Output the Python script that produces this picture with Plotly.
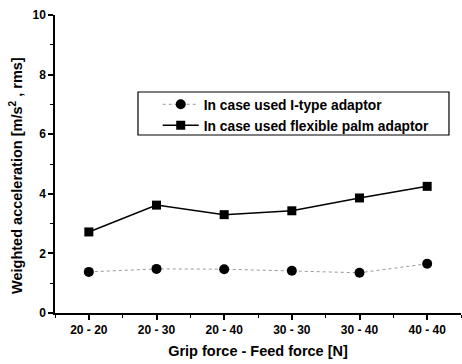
import plotly.graph_objects as go

categories = ["20 - 20", "20 - 30", "20 - 40", "30 - 30", "30 - 40", "40 - 40"]
itype = [1.38, 1.48, 1.47, 1.42, 1.35, 1.65]
flexible = [2.72, 3.62, 3.30, 3.43, 3.86, 4.25]
y_ticks = [0, 2, 4, 6, 8, 10]

xpos = list(range(len(categories)))
FONT = "Liberation Sans, Arial, sans-serif"

fig = go.Figure()
fig.add_trace(go.Scatter(
    x=xpos, y=itype, mode="lines+markers",
    name="<b>In case used I-type adaptor</b>",
    line=dict(color="#999999", width=1, dash="dot"),
    marker=dict(symbol="circle", size=10, color="black"),
))
fig.add_trace(go.Scatter(
    x=xpos, y=flexible, mode="lines+markers",
    name="<b>In case used flexible palm adaptor</b>",
    line=dict(color="black", width=1.5),
    marker=dict(symbol="square", size=9, color="black"),
))

fig.update_layout(
    width=462, height=364,
    margin=dict(l=55, r=1, t=15, b=51),
    paper_bgcolor="white", plot_bgcolor="white",
    font=dict(family=FONT, color="black", size=11),
    showlegend=True,
    legend=dict(
        x=0.253, y=0.665, xanchor="left", yanchor="middle",
        borderwidth=0, bgcolor="rgba(0,0,0,0)",
        font=dict(size=13.8, family=FONT), tracegroupgap=0,
        itemwidth=36,
    ),
    shapes=[dict(type="rect", xref="paper", yref="paper",
                 x0=0.2044, x1=0.9704, y0=0.5973, y1=0.7416,
                 line=dict(color="black", width=1.2), fillcolor="rgba(0,0,0,0)", layer="below")],
    annotations=[dict(text="<b>Weighted acceleration [m/s<sup>2</sup> , rms]</b>",
                      xref="paper", yref="paper", x=-0.096, y=0.46,
                      xanchor="center", yanchor="middle", textangle=-90, showarrow=False,
                      font=dict(size=14.5, family=FONT))],
)
fig.update_xaxes(
    automargin=False,
    range=[-0.5, 5.5],
    tickmode="array", tickvals=xpos, ticktext=["<b>%s</b>" % c for c in categories],
    showline=True, linecolor="black", linewidth=1.5, mirror=False,
    ticks="outside", ticklen=5, tickwidth=1.5, tickcolor="black",
    minor=dict(tickmode="linear", tick0=0.5, dtick=1, ticks="outside", ticklen=3, tickcolor="black", tickwidth=1),
    showgrid=False, zeroline=False,
    tickfont=dict(size=12, family=FONT),
    title=dict(text="<b>Grip force - Feed force [N]</b>", font=dict(size=14.5, family=FONT), standoff=10),
)
fig.update_yaxes(
    automargin=False,
    range=[0, 10],
    tickmode="array", tickvals=y_ticks, ticktext=["<b>%d</b>" % v for v in y_ticks],
    showline=True, linecolor="black", linewidth=1.5,
    ticks="outside", ticklen=5, tickwidth=1.5, tickcolor="black",
    minor=dict(tickmode="linear", tick0=1, dtick=2, ticks="outside", ticklen=3, tickcolor="black", tickwidth=1),
    showgrid=False, zeroline=False,
    tickfont=dict(size=12, family=FONT),
)

fig.write_html("out.html", config={"displayModeBar": False},
               post_script="document.body.style.margin='0';document.body.style.padding='0';")
